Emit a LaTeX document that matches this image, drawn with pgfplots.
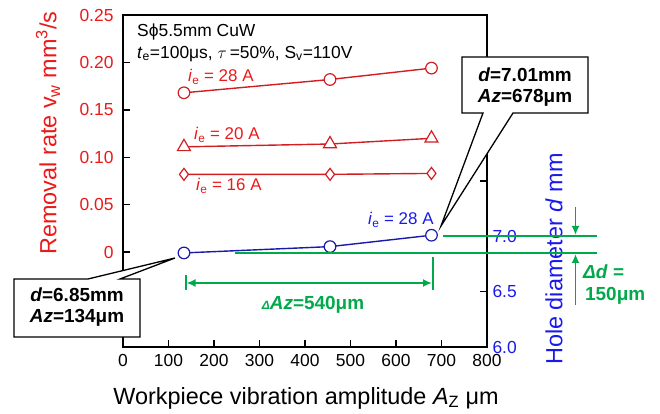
\documentclass[border=0pt]{standalone}
\usepackage{pgfplots}
\pgfplotsset{compat=1.18}
\usetikzlibrary{arrows.meta}
\usepackage{fontspec}
\setmainfont{Liberation Sans}
\definecolor{txtred}{RGB}{235,25,25}
\definecolor{linered}{RGB}{210,30,35}
\definecolor{txtblue}{RGB}{25,25,235}
\definecolor{lineblue}{RGB}{25,25,170}
\definecolor{grn}{RGB}{0,170,75}
\newcommand{\fs}[1]{\fontsize{#1}{#1}\selectfont}
\begin{document}
\begin{tikzpicture}
\useasboundingbox (0,0) rectangle (660bp,414bp);
% left axis (removal rate)
\begin{axis}[
  at={(123bp,67bp)}, anchor=south west,
  scale only axis, width=364bp, height=332bp,
  xmin=0, xmax=800, ymin=-0.1, ymax=0.25,
  xtick={0,100,200,300,400,500,600,700,800},
  ytick={0,0.05,0.1,0.15,0.2,0.25},
  yticklabels={0,0.05,0.10,0.15,0.20,0.25},
  xtick pos=bottom, ytick pos=left,
  tick align=inside, major tick length=7bp,
  /pgf/number format/assume math mode=true,
  xticklabel style={font=\fs{17.5}, black, yshift=-4bp},
  yticklabel style={font=\fs{17.5}, txtred, xshift=-6bp},
  axis line style={line width=1.8bp},
  every tick/.style={black, line width=1.5bp},
  clip=false,
]
\addplot[linered, line width=1.4bp, mark=*, mark size=5.8bp,
  mark options={fill=white, draw=linered, line width=1.2bp}]
  coordinates {(134,0.168) (455,0.182) (678,0.194)};
\addplot[linered, line width=1.4bp, mark=triangle*, mark size=7.5bp,
  mark options={fill=white, draw=linered, line width=1.2bp}]
  coordinates {(134,0.111) (455,0.114) (678,0.120)};
\addplot[linered, line width=1.4bp, mark=diamond*, mark size=6bp,
  mark options={fill=white, draw=linered, line width=1.2bp}]
  coordinates {(134,0.082) (455,0.082) (678,0.083)};
\end{axis}
% right axis (hole diameter)
\begin{axis}[
  at={(123bp,67bp)}, anchor=south west,
  scale only axis, width=364bp, height=332bp,
  xmin=0, xmax=800, ymin=6.0, ymax=9.0,
  axis x line=none, axis y line*=right,
  ytick={6,6.5,7,7.5},
  yticklabels={6.0,6.5,7.0,{}},
  tick align=inside, major tick length=7bp,
  yticklabel style={font=\fs{17.5}, txtblue, xshift=2bp},
  axis line style={line width=1.8bp},
  every tick/.style={black, line width=1.5bp},
  clip=false,
]
\addplot[lineblue, line width=1.4bp, mark=*, mark size=5.8bp,
  mark options={fill=white, draw=lineblue, line width=1.2bp}]
  coordinates {(134,6.85) (455,6.907) (678,7.01)};
\end{axis}
\begin{scope}[x=1bp, y=-1bp, shift={(0,414bp)}]
  % header
  \node[anchor=west, inner sep=0, font=\fs{17.5}] at (137,32) {Sϕ5.5mm CuW};
  \node[anchor=west, inner sep=0, font=\fs{17.5}] at (137,54)
    {\textit{t}\textsubscript{e}=100μs, $\tau$\,=50\%, S\textsubscript{v}=110V};
  % series labels
  \node[anchor=west, inner sep=0, font=\fs{17}, txtred] at (188,77) {\textit{i}\textsubscript{e} = 28 A};
  \node[anchor=west, inner sep=0, font=\fs{17}, txtred] at (194,135) {\textit{i}\textsubscript{e} = 20 A};
  \node[anchor=west, inner sep=0, font=\fs{17}, txtred] at (196,186) {\textit{i}\textsubscript{e} = 16 A};
  \node[anchor=west, inner sep=0, font=\fs{17}, txtblue] at (368,220) {\textit{i}\textsubscript{e} = 28 A};
  % axis titles
  \node[font=\fs{23.5}] at (306,398) {Workpiece vibration amplitude \textit{A}\textsubscript{Z} μm};
  \node[font=\fs{23.5}, txtred, rotate=90] at (48,133) {Removal rate v\textsubscript{w} mm\textsuperscript{3}/s};
  \node[font=\fs{23.5}, txtblue, rotate=90] at (554,259) {Hole diameter \textit{d} mm};
  % green annotations
  \draw[grn, line width=2bp] (443,236) -- (597,236);
  \draw[grn, line width=2bp] (235,253) -- (597,253);
  \draw[grn, line width=1.8bp, -{Latex[length=9bp,width=8bp]}] (575.5,207) -- (575.5,235);
  \draw[grn, line width=1.8bp, -{Latex[length=9bp,width=8bp]}] (575.5,305) -- (575.5,254);
  \draw[grn, line width=1.8bp, {Latex[length=9bp,width=8bp]}-{Latex[length=9bp,width=8bp]}] (186.5,283) -- (432,283);
  \draw[grn, line width=1.8bp] (186,275) -- (186,290);
  \draw[grn, line width=1.8bp] (433,257) -- (433,290);
  \node[grn, font=\fs{19}\bfseries] at (313,305) {{\fs{12}\textit{Δ}}\textit{Az}=540μm};
  \node[grn, anchor=west, inner sep=0, font=\fs{19}\bfseries] at (583,272) {\textit{Δd} =};
  \node[grn, anchor=west, inner sep=0, font=\fs{19}\bfseries] at (585,296) {150μm};
  % callouts
  \draw[line width=1.3bp, fill=white] (14,279) -- (88,279) -- (175,258) -- (120,279) -- (140,279) -- (140,337) -- (14,337) -- cycle;
  \node[font=\fs{19}\bfseries] at (77,295) {\textit{d}=6.85mm};
  \node[font=\fs{19}\bfseries] at (77,318) {\textit{Az}=134μm};
  \draw[line width=1.3bp, fill=white] (462,57) -- (588,57) -- (588,113) -- (513,113) -- (441,226) -- (483,113) -- (462,113) -- cycle;
  \node[font=\fs{19}\bfseries] at (525,75) {\textit{d}=7.01mm};
  \node[font=\fs{19}\bfseries] at (525,98) {\textit{Az}=678μm};
\end{scope}
\end{tikzpicture}
\end{document}
